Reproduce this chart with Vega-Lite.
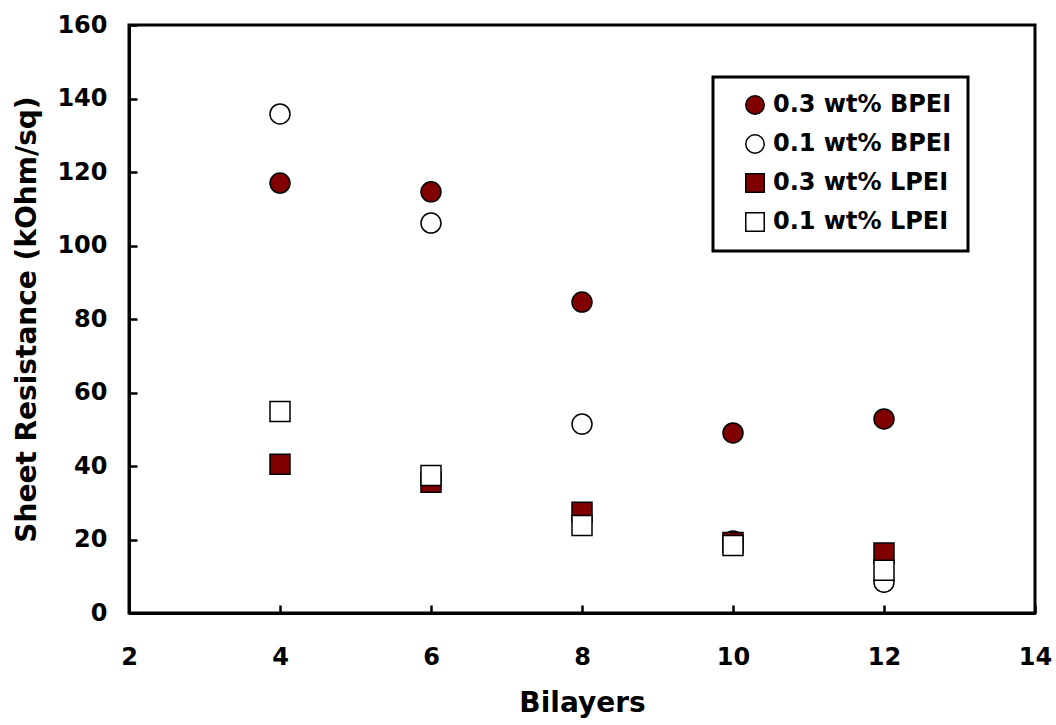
{
  "$schema": "https://vega.github.io/schema/vega-lite/v6.json",
  "width": 906,
  "height": 588,
  "autosize": "none",
  "padding": {"left": 129, "top": 25, "right": 21, "bottom": 112},
  "background": "white",
  "config": {
    "font": "DejaVu Sans",
    "view": {"stroke": "black", "strokeWidth": 3},
    "axis": {
      "domainColor": "black", "domainWidth": 3, "grid": false,
      "tickColor": "black", "tickWidth": 2.5, "tickSize": -8, "labelFlush": false,
      "labelFont": "DejaVu Sans", "labelFontWeight": "bold", "labelFontSize": 24, "labelColor": "black",
      "titleFont": "DejaVu Sans", "titleFontWeight": "bold", "titleFontSize": 28, "titleColor": "black"
    },
    "legend": {"strokeWidth": 3}
  },
  "data": {
    "values": [
      {"bilayers": 4, "series": "0.3 wt% BPEI", "r": 117.0},
      {"bilayers": 6, "series": "0.3 wt% BPEI", "r": 114.6},
      {"bilayers": 8, "series": "0.3 wt% BPEI", "r": 84.6},
      {"bilayers": 10, "series": "0.3 wt% BPEI", "r": 49.0},
      {"bilayers": 12, "series": "0.3 wt% BPEI", "r": 52.8},
      {"bilayers": 4, "series": "0.1 wt% BPEI", "r": 135.8},
      {"bilayers": 6, "series": "0.1 wt% BPEI", "r": 106.1},
      {"bilayers": 8, "series": "0.1 wt% BPEI", "r": 51.4},
      {"bilayers": 10, "series": "0.1 wt% BPEI", "r": 19.6},
      {"bilayers": 12, "series": "0.1 wt% BPEI", "r": 8.4},
      {"bilayers": 4, "series": "0.3 wt% LPEI", "r": 40.5},
      {"bilayers": 6, "series": "0.3 wt% LPEI", "r": 35.6},
      {"bilayers": 8, "series": "0.3 wt% LPEI", "r": 27.4},
      {"bilayers": 10, "series": "0.3 wt% LPEI", "r": 19.2},
      {"bilayers": 12, "series": "0.3 wt% LPEI", "r": 16.3},
      {"bilayers": 4, "series": "0.1 wt% LPEI", "r": 54.8},
      {"bilayers": 6, "series": "0.1 wt% LPEI", "r": 37.4},
      {"bilayers": 8, "series": "0.1 wt% LPEI", "r": 23.8},
      {"bilayers": 10, "series": "0.1 wt% LPEI", "r": 18.4},
      {"bilayers": 12, "series": "0.1 wt% LPEI", "r": 11.6}
    ]
  },
  "mark": {"type": "point", "filled": true, "stroke": "black", "strokeWidth": 1.5, "opacity": 1, "size": 400},
  "encoding": {
    "x": {
      "field": "bilayers", "type": "quantitative",
      "scale": {"domain": [2, 14], "nice": false, "zero": false},
      "axis": {"values": [2, 4, 6, 8, 10, 12, 14], "title": "Bilayers", "labelPadding": 40, "titlePadding": 20}
    },
    "y": {
      "field": "r", "type": "quantitative",
      "scale": {"domain": [0, 160], "nice": false},
      "axis": {"values": [0, 20, 40, 60, 80, 100, 120, 140, 160], "title": "Sheet Resistance (kOhm/sq)", "labelPadding": 30, "titlePadding": 15}
    },
    "shape": {
      "field": "series", "type": "nominal",
      "scale": {"domain": ["0.3 wt% BPEI", "0.1 wt% BPEI", "0.3 wt% LPEI", "0.1 wt% LPEI"], "range": ["circle", "circle", "square", "square"]},
      "legend": {
        "title": null, "orient": "none", "legendX": 584, "legendY": 52,
        "fillColor": "white", "strokeColor": "black",
        "padding": 16, "symbolOffset": 14,
        "labelFont": "DejaVu Sans", "labelFontWeight": "bold", "labelFontSize": 24, "labelColor": "black",
        "labelOffset": 6, "rowPadding": 13, "labelLimit": 500,
        "symbolSize": 340,
        "encode": {
          "symbols": {"update": {"stroke": {"value": "black"}, "strokeWidth": {"value": 1.5}}}
        }
      }
    },
    "fill": {
      "field": "series", "type": "nominal",
      "scale": {"domain": ["0.3 wt% BPEI", "0.1 wt% BPEI", "0.3 wt% LPEI", "0.1 wt% LPEI"], "range": ["#800000", "#ffffff", "#800000", "#ffffff"]},
      "legend": {
        "title": null, "orient": "none", "legendX": 584, "legendY": 52,
        "fillColor": "white", "strokeColor": "black",
        "padding": 16, "symbolOffset": 14,
        "labelFont": "DejaVu Sans", "labelFontWeight": "bold", "labelFontSize": 24, "labelColor": "black",
        "labelOffset": 6, "rowPadding": 13, "labelLimit": 500,
        "symbolSize": 340,
        "encode": {
          "symbols": {"update": {"stroke": {"value": "black"}, "strokeWidth": {"value": 1.5}}}
        }
      }
    }
  }
}
